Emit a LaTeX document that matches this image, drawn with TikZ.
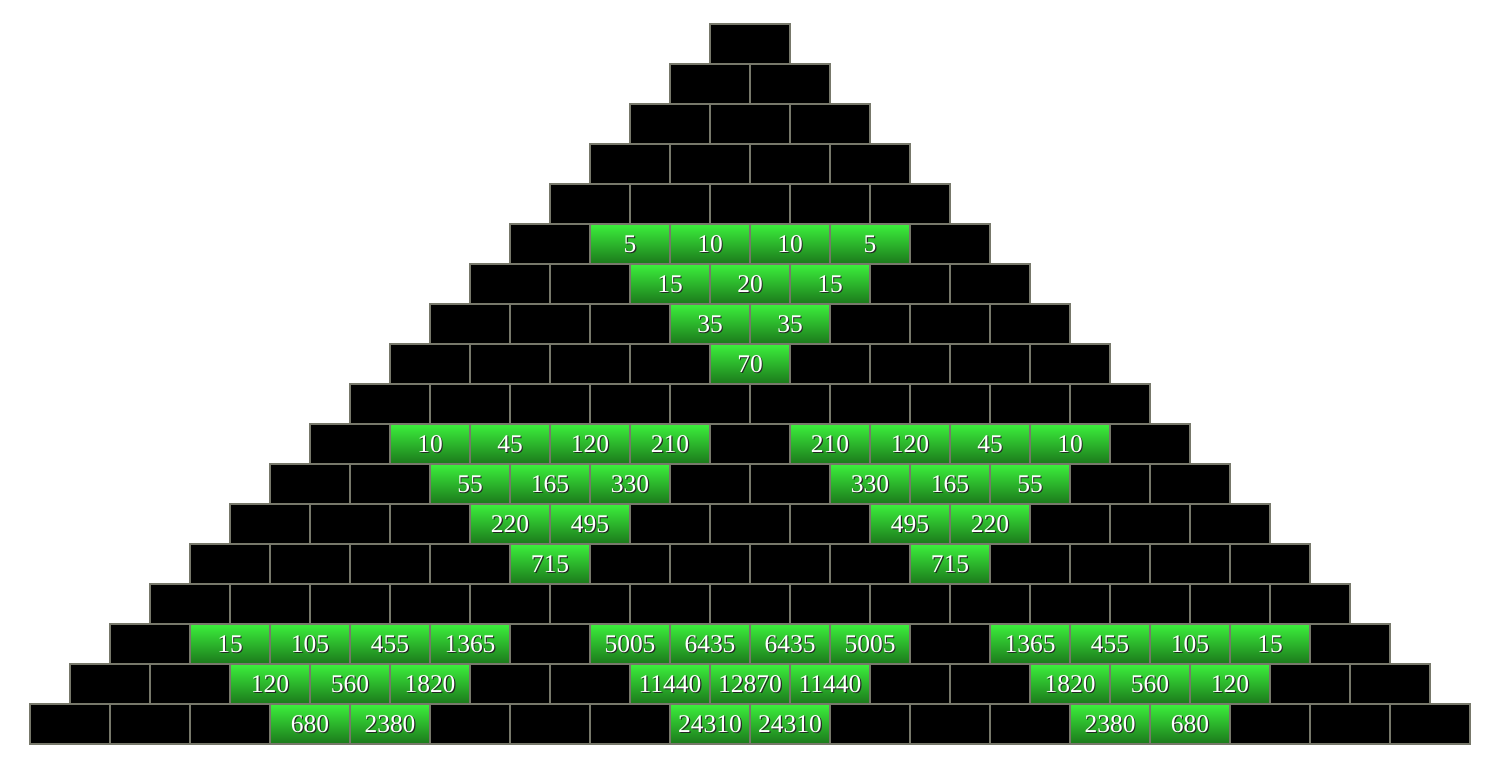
\documentclass[tikz,border=0pt]{standalone}
\usepackage{fontspec}
\setmainfont{Liberation Serif}
\definecolor{mortar}{HTML}{77786A}
\definecolor{leaftop}{HTML}{3CF03C}
\definecolor{leafbottom}{HTML}{1B781B}
\tikzset{
  brick/.style     = {draw=mortar, line width=0.04cm, fill=black, minimum width=1.6cm,
                      minimum height=0.8cm, inner sep=0pt, outer sep=0pt},
  leafbrick/.style = {brick, top color=leaftop, bottom color=leafbottom},
  digits/.style    = {text=white, inner sep=0pt, font=\fontsize{14.5}{16}\selectfont},
  digitshade/.style= {digits, text=black!85},
}
% C(n,k) in \bincnt, integer arithmetic (values above 16383)
\newcount\bincnt
\newcount\binidx
\newcommand\setbrickvalue[2]{%
  \bincnt=1 \binidx=0
  \loop\ifnum\binidx<#2
    \advance\binidx by 1
    \bincnt=\numexpr\bincnt*(#1-\binidx+1)/\binidx\relax
  \repeat}

\begin{document}
\begin{tikzpicture}[x=0.02cm, y=-0.02cm]
  \useasboundingbox (0,0) rectangle (1500,770);
  \foreach \n in {0,...,17}{
    \foreach \k in {0,...,\n}{
      \setbrickvalue{\n}{\k}
      % green where 5 divides C(n,k)
      \ifnum\numexpr\bincnt-5*((\bincnt-2)/5)\relax=0
        \node[leafbrick] (b-\n-\k) at (750-40*\n+80*\k, 44+40*\n) {};
        \node[digitshade] (s-\n-\k) at ([shift={(1.2,1.2)}]b-\n-\k.center) {\the\bincnt};
        \node[digits] (t-\n-\k) at (b-\n-\k.center) {\the\bincnt};
      \else
        \node[brick] (b-\n-\k) at (750-40*\n+80*\k, 44+40*\n) {};
      \fi
    }
  }
\end{tikzpicture}
\end{document}
